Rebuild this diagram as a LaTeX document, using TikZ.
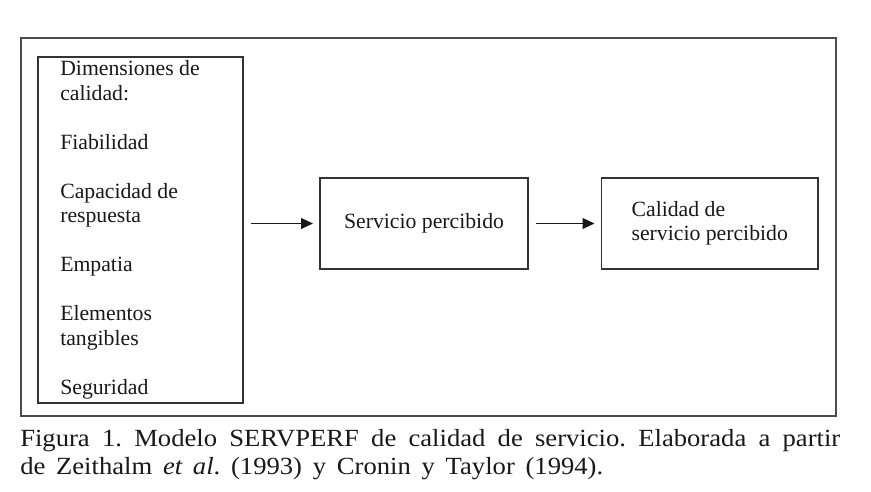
\documentclass[tikz,border=0pt]{standalone}
\usepackage{fontspec}
\setmainfont{Liberation Serif}
\newfontfamily\capfont[FakeStretch=1.08]{Liberation Serif}
\usetikzlibrary{arrows.meta}
\begin{document}
\frenchspacing
\begin{tikzpicture}[x=0.75pt,y=-0.75pt,
  box/.style={draw=black!80, line width=1.4pt, inner sep=0pt},
  lbl/.style={font=\fontsize{16.3}{18.4}\selectfont, inner sep=0pt, text=black!90},
  capt/.style={font=\capfont\fontsize{18.5}{21}\selectfont, inner sep=0pt, anchor=base west, text=black!90},
  arr/.style={-{Triangle[length=9pt,width=8pt]}, line width=1.3pt, draw=black!90, shorten <=5pt, shorten >=4.5pt}]
\useasboundingbox (0,0) rectangle (871,492);
\fill[white] (0,0) rectangle (871,492);
% outer frame
\node[box, draw=black!70, minimum width=611.25pt, minimum height=283.5pt] (frame) at (428.5,227) {};
% left box
\node[box, minimum width=153.75pt, minimum height=259.5pt] (dims) at (140.5,230) {};
\foreach \t/\k [count=\i] in {Dimensiones de/0, calidad:/1, Fiabilidad/3, Capacidad de/5, respuesta/6, Empatia/8, Elementos/10, tangibles/11, Seguridad/13}
  \node[lbl, anchor=base west] (d\i) at (60,{75.5+24.5*\k}) {\t};
% middle box
\node[box, lbl, minimum width=156pt, minimum height=68.25pt] (serv) at (424,223.5) {Servicio percibido};
% right box
\node[box, lbl, align=left, minimum width=162.4pt, minimum height=68.25pt] (cal) at (709.75,223.5) {Calidad de\\servicio percibido};
% arrows
\draw[arr] (dims.east |- serv.west) -- (serv.west);
\draw[arr] (serv.east) -- (cal.west);
% caption
\node[capt] (cap1) at (20,446) {\makebox[615pt][s]{Figura 1. Modelo SERVPERF de calidad de servicio. Elaborada a partir}};
\node[capt] (cap2) at (20,474) {\makebox[437.25pt][s]{de Zeithalm \textit{et al}. (1993) y Cronin y Taylor (1994).}};
\end{tikzpicture}
\end{document}
